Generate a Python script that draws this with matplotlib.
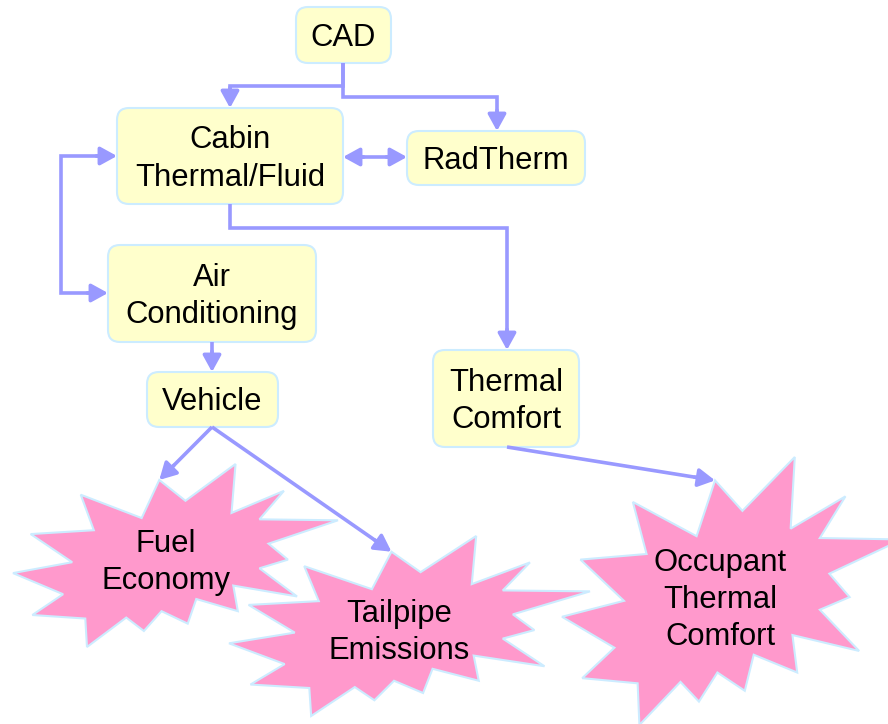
import numpy as np
import matplotlib
matplotlib.use("Agg")
import matplotlib.pyplot as plt
from matplotlib.patches import FancyBboxPatch, FancyArrowPatch, Polygon

# nodes of the flow chart
box_names = ["CAD", "Cabin", "RadTherm", "AirCond", "Vehicle", "Comfort"]
box_labels = ["CAD", "Cabin\nThermal/Fluid", "RadTherm", "Air\nConditioning",
              "Vehicle", "Thermal\nComfort"]
burst_names = ["Fuel", "Tailpipe", "Occupant"]
burst_labels = ["Fuel\nEconomy", "Tailpipe\nEmissions", "Occupant\nThermal\nComfort"]

# which node feeds which
links = [("CAD", "Cabin"), ("CAD", "RadTherm"), ("Cabin", "RadTherm"),
         ("Cabin", "AirCond"), ("Cabin", "Comfort"), ("AirCond", "Vehicle"),
         ("Vehicle", "Fuel"), ("Vehicle", "Tailpipe"), ("Comfort", "Occupant")]

# ---- layout (pixels, y down) ----
box_xywh = {
    "CAD": (296, 7, 95, 56),
    "Cabin": (117, 108, 226, 96),
    "RadTherm": (407, 131, 178, 54),
    "AirCond": (108, 245, 208, 97),
    "Vehicle": (147, 372, 131, 55),
    "Comfort": (433, 350, 146, 97),
}
burst_xywh = {
    "Fuel": (13, 464, 325, 183),
    "Tailpipe": (229, 536, 361, 180),
    "Occupant": (562, 457, 340, 268),
}
burst_text_at = {"Fuel": (166, 559), "Tailpipe": (399, 629.5), "Occupant": (720, 597)}

# "explosion 2" outline, in 21600 units
SEAL = np.array([
    (11462, 4342), (14790, 0), (14525, 5777), (18007, 3172), (16380, 6532),
    (21600, 6645), (16985, 9402), (18270, 11290), (16380, 12310), (18877, 15632),
    (14640, 14350), (14942, 17370), (12180, 15935), (11612, 18842), (9872, 17370),
    (8700, 19712), (7527, 18125), (4917, 21600), (4805, 18240), (1285, 17825),
    (3330, 15370), (0, 12877), (3935, 11592), (1172, 8270), (5372, 7817),
    (4502, 3625), (8550, 6382), (9722, 1887)]) / 21600.0

ARROW = "#9999FF"
BOX_FILL, BOX_EDGE = "#FFFFCC", "#CCECFF"
BURST_FILL = "#FF99CC"
LW = 2.6
HEAD = "-|>,head_length=10,head_width=5.5"
HEAD_PX = 13
FONT = ["Liberation Sans", "DejaVu Sans"]
FS = 22.3
GAP = 37
CAP = 22


def burst_pts(name):
    x, y, w, h = burst_xywh[name]
    return np.column_stack([x + SEAL[:, 0] * w, y + SEAL[:, 1] * h])


def put_text(ax, cx, cy, label):
    lines = label.split("\n")
    n = len(lines)
    for i, line in enumerate(lines):
        base = cy + (i - (n - 1) / 2) * GAP + CAP / 2
        ax.text(cx, base, line, ha="center", va="baseline", fontsize=FS,
                family=FONT, color="black", zorder=6)


def head(ax, tip, prev):
    d = (tip - prev) / np.linalg.norm(tip - prev)
    ax.add_patch(FancyArrowPatch(tuple(tip - d * HEAD_PX * 1.6), tuple(tip),
                                 arrowstyle=HEAD, mutation_scale=1, lw=LW,
                                 color=ARROW, shrinkA=0, shrinkB=0, zorder=4))
    return tip - d * HEAD_PX


def route(ax, pts, start=False, end=True):
    pts = np.array(pts, float)
    line = pts.copy()
    if end:
        line[-1] = head(ax, pts[-1], pts[-2])
    if start:
        line[0] = head(ax, pts[0], pts[1])
    ax.plot(line[:, 0], line[:, 1], color=ARROW, lw=LW,
            solid_joinstyle="miter", solid_capstyle="butt", zorder=3)


fig = plt.figure(figsize=(8.88, 7.24), dpi=100)
ax = fig.add_axes([0, 0, 1, 1])
ax.set_xlim(0, 888)
ax.set_ylim(724, 0)
ax.axis("off")

# bursts (tailpipe sits on top of the others)
for k, name in enumerate(["Fuel", "Occupant", "Tailpipe"]):
    ax.add_patch(Polygon(burst_pts(name), closed=True, facecolor=BURST_FILL,
                         edgecolor=BOX_EDGE, lw=1.5, zorder=1 + k * 0.1))
for name, label in zip(burst_names, burst_labels):
    put_text(ax, *burst_text_at[name], label)

# boxes
for name, label in zip(box_names, box_labels):
    x, y, w, h = box_xywh[name]
    ax.add_patch(FancyBboxPatch((x, y), w, h, boxstyle="round,pad=0,rounding_size=12",
                                facecolor=BOX_FILL, edgecolor=BOX_EDGE, lw=1.5, zorder=2))
    put_text(ax, x + w / 2, y + h / 2, label)

# connector routes for each link
tip = {n: burst_pts(n)[-1] for n in burst_names}
routes = {
    ("CAD", "Cabin"): dict(pts=[(343, 63), (343, 86), (230, 86), (230, 108)]),
    ("CAD", "RadTherm"): dict(pts=[(343, 63), (343, 97), (497, 97), (497, 131)]),
    ("Cabin", "RadTherm"): dict(pts=[(343, 157), (407, 157)], start=True),
    ("Cabin", "AirCond"): dict(pts=[(117, 156), (61, 156), (61, 293), (108, 293)], start=True),
    ("Cabin", "Comfort"): dict(pts=[(230, 204), (230, 228), (507, 228), (507, 350)]),
    ("AirCond", "Vehicle"): dict(pts=[(212, 342), (212, 372)]),
    ("Vehicle", "Fuel"): dict(pts=[(212, 427), tip["Fuel"]]),
    ("Vehicle", "Tailpipe"): dict(pts=[(212, 427), tip["Tailpipe"]]),
    ("Comfort", "Occupant"): dict(pts=[(507, 447), tip["Occupant"]]),
}
for link in links:
    r = routes[link]
    route(ax, r["pts"], start=r.get("start", False))

fig.savefig("out.png", dpi=100, facecolor="white")
